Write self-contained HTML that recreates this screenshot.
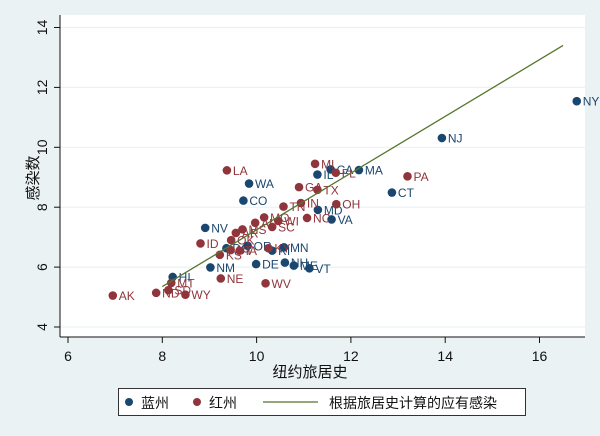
<!DOCTYPE html>
<html><head><meta charset="utf-8"><style>
body{margin:0;background:#eaf2f3;}
svg{display:block;font-family:"Liberation Sans","Noto Sans CJK SC",sans-serif;}
</style></head><body>
<svg id="chart" width="600" height="436" viewBox="0 0 600 436">
<rect x="0" y="0" width="600" height="436" fill="#eaf2f3"/>
<rect x="60" y="15" width="525" height="322" fill="#ffffff"/>
<g id="grid"></g><g id="axes"></g><g id="marks"></g>
<text x="310" y="377" font-size="15" text-anchor="middle" fill="#111">纽约旅居史</text>
<text transform="translate(38,178) rotate(-90)" font-size="15" text-anchor="middle" fill="#111">感染数</text>
<g>
<rect x="118.5" y="388.5" width="407" height="27" fill="#fff" stroke="#333"/>
<g><circle cx="129" cy="402" r="4" fill="#1a476f"/><text x="141" y="408" font-size="14" fill="#111">蓝州</text></g>
<g><circle cx="197" cy="402" r="4" fill="#90353b"/><text x="209" y="408" font-size="14" fill="#111">红州</text></g>
<g><line x1="263" y1="402" x2="318" y2="402" stroke="#55752f" stroke-width="1.3"/><text x="329" y="408" font-size="14" fill="#111">根据旅居史计算的应有感染</text></g>
</g>
</svg>
<script>
const xTicks=[6,8,10,12,14,16];
const yTicks=[4,6,8,10,12,14];
const blueStates=["NY","NJ","MA","CA","IL","CT","WA","CO","MD","VA","NV","DC","OR","MN","RI","DE","NH","ME","VT","NM","HI"];
const blueX=[16.79,13.93,12.17,11.57,11.29,12.87,9.84,9.72,11.30,11.59,8.91,9.36,9.81,10.58,10.33,9.99,10.60,10.79,11.12,9.02,8.22];
const blueY=[11.54,10.31,9.24,9.26,9.09,8.49,8.79,8.22,7.91,7.59,7.31,6.63,6.71,6.66,6.55,6.10,6.15,6.05,5.96,5.99,5.67];
const redStates=["MI","FL","LA","PA","GA","TX","IN","OH","TN","MO","NC","WI","AL","SC","MS","AR","OK","ID","KY","UT","IA","KS","NE","WV","MT","SD","ND","WY","AK"];
const redX=[11.24,11.68,9.37,13.20,10.90,11.29,10.94,11.69,10.57,10.16,11.07,10.46,9.97,10.33,9.70,9.56,9.46,8.81,10.25,9.45,9.64,9.22,9.24,10.19,8.19,8.13,7.87,8.49,6.95];
const redY=[9.45,9.15,9.23,9.03,8.67,8.58,8.14,8.10,8.02,7.66,7.64,7.54,7.48,7.34,7.26,7.14,6.90,6.79,6.63,6.57,6.55,6.41,5.62,5.46,5.47,5.23,5.14,5.08,5.05];
const fitX=[8,16.5];
const fitY=[5.35,13.4];
const NS="http://www.w3.org/2000/svg";
const sx=v=>68+(v-6)*47.15;
const sy=v=>327-(v-4)*29.95;
function mk(tag,attrs,parent,text){const e=document.createElementNS(NS,tag);for(const k in attrs)e.setAttribute(k,attrs[k]);if(text!==undefined)e.textContent=text;parent.appendChild(e);return e;}
const grid=document.getElementById('grid'),axes=document.getElementById('axes'),marks=document.getElementById('marks');
yTicks.forEach(t=>{
 const g=mk('line',{x1:60,x2:585,y1:sy(t),y2:sy(t),stroke:'#eaf2f3','stroke-width':1.2},grid);
 
 
 const tk=mk('line',{x1:54,x2:60,y1:sy(t),y2:sy(t),stroke:'#111'},axes);
 
 
 const lb=mk('text',{transform:`translate(47,${sy(t)}) rotate(-90)`,'font-size':14,'text-anchor':'middle',fill:'#111'},axes,String(t));
 
 
});
xTicks.forEach(t=>{
 const tk=mk('line',{x1:sx(t),x2:sx(t),y1:337,y2:343,stroke:'#111'},axes);
 
 
 const lb=mk('text',{x:sx(t),y:361,'font-size':14,'text-anchor':'middle',fill:'#111'},axes,String(t));
 
 
});
const ya=mk('line',{x1:60,x2:60,y1:15,y2:337,stroke:'#111'},axes);


const xa=mk('line',{x1:60,x2:585,y1:337,y2:337,stroke:'#111'},axes);


function series(names,xs,ys,col,key){
 names.forEach((n,i)=>{
  const c=mk('circle',{cx:sx(xs[i]),cy:sy(ys[i]),r:4.3,fill:col},marks);
  
  
  const t=mk('text',{x:sx(xs[i])+6,y:sy(ys[i])+4.5,'font-size':12,fill:col},marks,n);
  
  
 });
}
series(blueStates,blueX,blueY,'#1a476f','blue');
series(redStates,redX,redY,'#90353b','red');
const fl=mk('line',{x1:sx(fitX[0]),y1:sy(fitY[0]),x2:sx(fitX[1]),y2:sy(fitY[1]),stroke:'#55752f','stroke-width':1.3},marks);


</script>
</body></html>
